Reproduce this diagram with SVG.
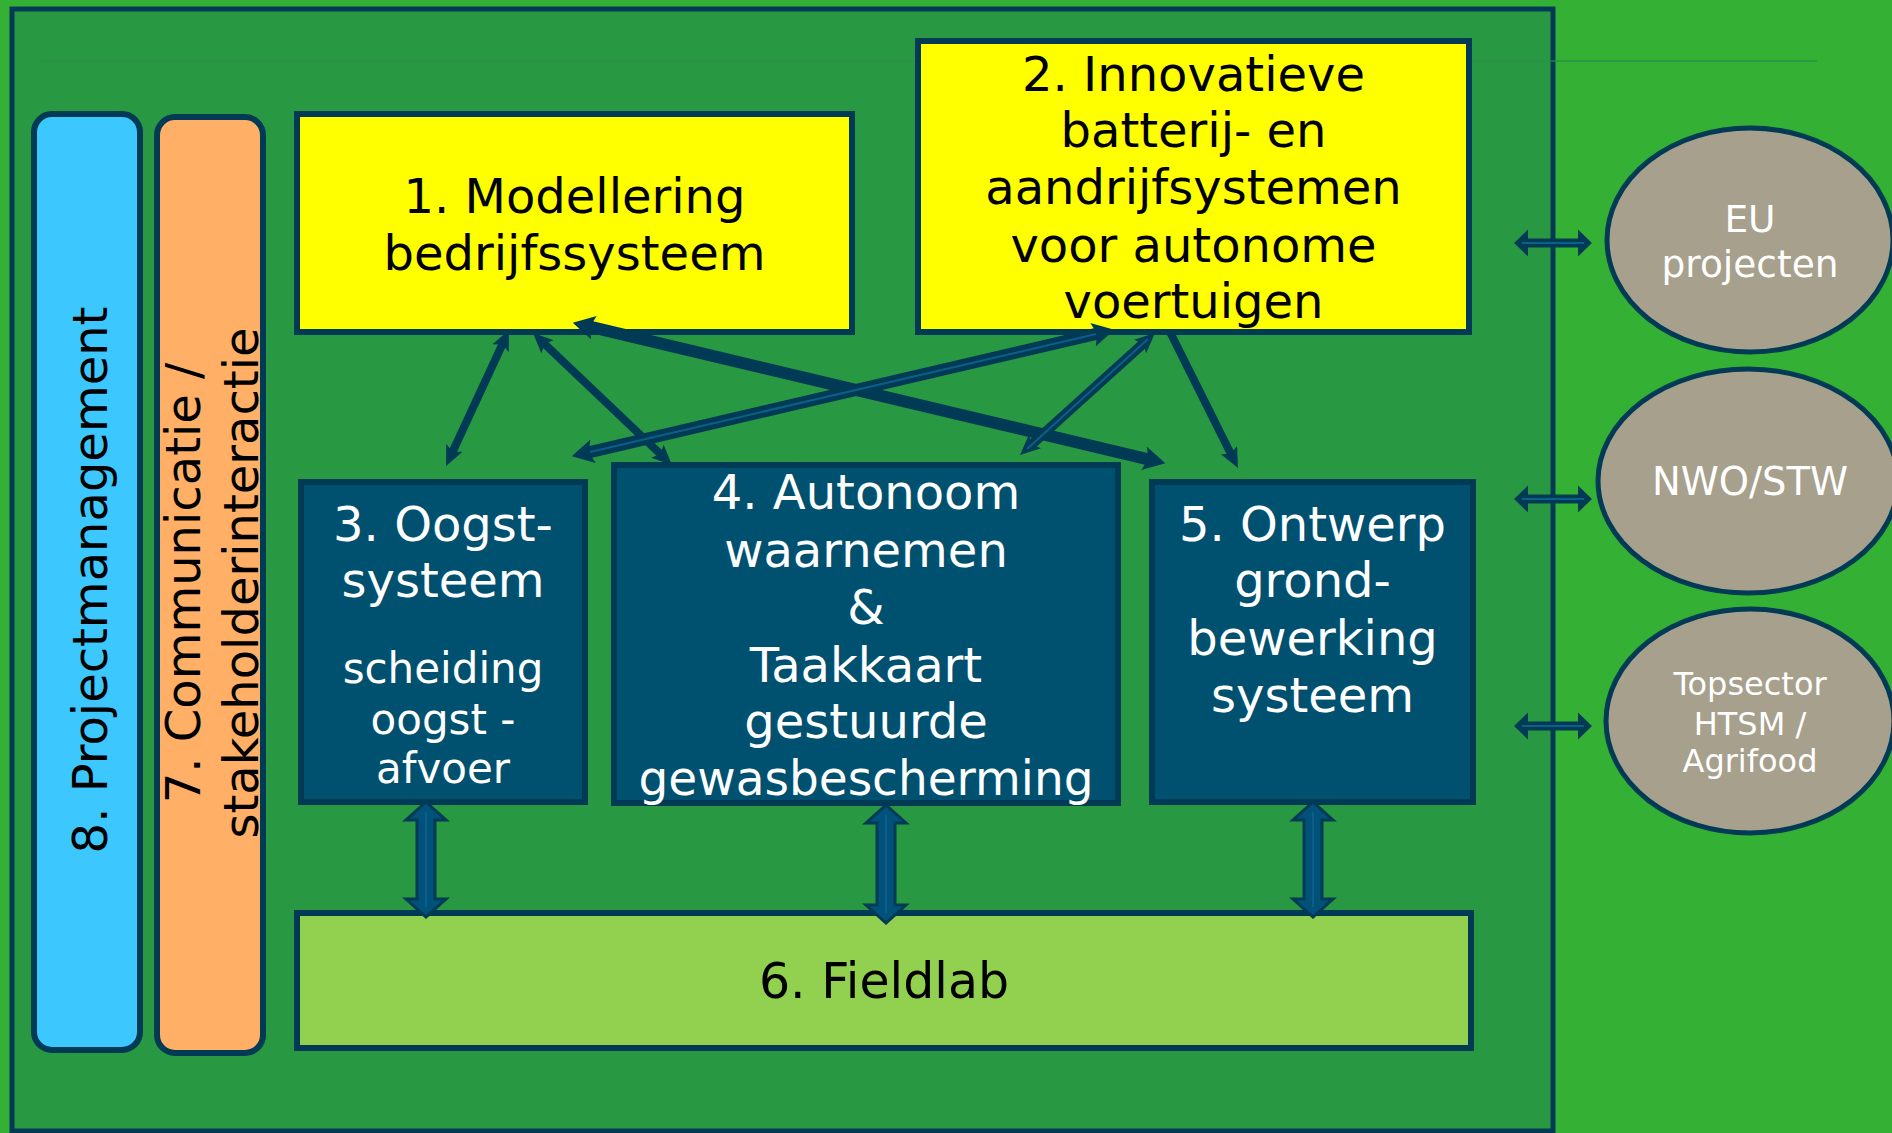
<svg xmlns="http://www.w3.org/2000/svg" width="1892" height="1133" viewBox="0 0 1892 1133">
<defs>
<style>
.t{font-family:"DejaVu Sans",Verdana,sans-serif;text-anchor:middle}
.blk{fill:#000}
.wht{fill:#fff}
.box{stroke:#003a55;stroke-width:6}
.ln{stroke:#003a55;fill:none}
.inner{stroke:#0b5f88;fill:none;stroke-width:2}
.dbl{fill:#00527a;stroke:#003a55;stroke-width:3;stroke-linejoin:miter}
.hz{fill:#003a55}
.ell{fill:#a6a08c;stroke:#003a55;stroke-width:5}
</style>
<marker id="ah" viewBox="0 0 20 18" refX="6" refY="9" markerWidth="20" markerHeight="18" markerUnits="userSpaceOnUse" orient="auto-start-reverse">
<path d="M0,0 L20,9 L0,18 L4,9 z" fill="#003a55"/>
</marker>
<marker id="ahb" viewBox="0 0 20 22" refX="6" refY="11" markerWidth="22" markerHeight="24" markerUnits="userSpaceOnUse" orient="auto-start-reverse">
<path d="M0,0 L20,11 L0,22 L4,11 z" fill="#003a55"/>
</marker>
</defs>
<rect x="0" y="0" width="1892" height="1133" fill="#34b034"/>
<rect x="12" y="9" width="1541" height="1122" fill="#299843" stroke="#003a55" stroke-width="5"/>
<line x1="41" y1="61" x2="1817" y2="61" stroke="#2a8c4c" stroke-width="2" stroke-opacity="0.6"/>

<g id="n8">
<rect x="34" y="114" width="106" height="936" rx="18" fill="#3cc8ff" class="box" stroke-width="5"/>
<text class="t blk" font-size="48" transform="translate(107,580) rotate(-90)">8. Projectmanagement</text>
</g>
<g id="n7">
<rect x="157" y="117" width="106" height="936" rx="18" fill="#ffb066" class="box" stroke-width="5"/>
<text class="t blk" font-size="48" transform="translate(200,583) rotate(-90)">7. Communicatie /</text>
<text class="t blk" font-size="48" transform="translate(258,583) rotate(-90)">stakeholderinteractie</text>
</g>
<g id="n1">
<rect x="297" y="114" width="555" height="218" fill="#ffff00" class="box"/>
<text class="t blk" font-size="48" x="574.5" y="213">1. Modellering</text>
<text class="t blk" font-size="48" x="574.5" y="270">bedrijfssysteem</text>
</g>
<g id="n2">
<rect x="918" y="41" width="551" height="291" fill="#ffff00" class="box"/>
<text class="t blk" font-size="48" x="1193.5" y="91">2. Innovatieve</text>
<text class="t blk" font-size="48" x="1193.5" y="147">batterij- en</text>
<text class="t blk" font-size="48" x="1193.5" y="204">aandrijfsystemen</text>
<text class="t blk" font-size="48" x="1193.5" y="262">voor autonome</text>
<text class="t blk" font-size="48" x="1193.5" y="318">voertuigen</text>
</g>
<g id="n3">
<rect x="301" y="482" width="284" height="320" fill="#00506f" class="box"/>
<text class="t wht" font-size="48" x="443" y="541">3. Oogst-</text>
<text class="t wht" font-size="48" x="443" y="597">systeem</text>
<text class="t wht" font-size="42" x="443" y="683">scheiding</text>
<text class="t wht" font-size="42" x="443" y="734">oogst -</text>
<text class="t wht" font-size="42" x="443" y="783">afvoer</text>
</g>
<g id="n4">
<rect x="614" y="465" width="504" height="338" fill="#00506f" class="box"/>
<text class="t wht" font-size="48" x="866" y="509">4. Autonoom</text>
<text class="t wht" font-size="48" x="866" y="567">waarnemen</text>
<text class="t wht" font-size="48" x="866" y="624">&amp;</text>
<text class="t wht" font-size="48" x="866" y="682">Taakkaart</text>
<text class="t wht" font-size="48" x="866" y="738">gestuurde</text>
<text class="t wht" font-size="48" x="866" y="795" textLength="455" lengthAdjust="spacingAndGlyphs">gewasbescherming</text>
</g>
<g id="n5">
<rect x="1152" y="482" width="321" height="320" fill="#00506f" class="box"/>
<text class="t wht" font-size="48" x="1312.5" y="541">5. Ontwerp</text>
<text class="t wht" font-size="48" x="1312.5" y="597">grond-</text>
<text class="t wht" font-size="48" x="1312.5" y="655">bewerking</text>
<text class="t wht" font-size="48" x="1312.5" y="712">systeem</text>
</g>
<g id="n6">
<rect x="297" y="913" width="1174" height="135" fill="#92d050" class="box"/>
<text class="t blk" font-size="49" x="884" y="998">6. Fieldlab</text>
</g>
<g id="eu">
<ellipse cx="1750" cy="240" rx="143" ry="112" class="ell"/>
<text class="t wht" font-size="37.5" x="1750" y="232">EU</text>
<text class="t wht" font-size="37.5" x="1750" y="277">projecten</text>
</g>
<g id="nwo">
<ellipse cx="1748" cy="481" rx="150" ry="112" class="ell"/>
<text class="t wht" font-size="38.5" x="1750" y="495">NWO/STW</text>
</g>
<g id="top">
<ellipse cx="1750" cy="721" rx="144" ry="112" class="ell"/>
<text class="t wht" font-size="32" x="1750" y="695">Topsector</text>
<text class="t wht" font-size="32" x="1750" y="735">HTSM /</text>
<text class="t wht" font-size="32" x="1750" y="772">Agrifood</text>
</g>

<g id="connectors">
<line class="ln" stroke-width="8" x1="503.1" y1="342.7" x2="451.9" y2="453.3" marker-start="url(#ah)" marker-end="url(#ah)"/>
<line class="ln" stroke-width="8" x1="543.2" y1="342.6" x2="661.8" y2="455.4" marker-start="url(#ah)" marker-end="url(#ah)"/>
<line class="ln" stroke-width="12" x1="587.6" y1="326.2" x2="1150.4" y2="459.8" marker-start="url(#ahb)" marker-end="url(#ahb)"/>
<line class="ln" stroke-width="12" x1="586.6" y1="452.8" x2="1099.4" y2="333.2" marker-start="url(#ahb)" marker-end="url(#ahb)"/>
<line class="inner" x1="590" y1="452" x2="1096" y2="334"/>
<line class="ln" stroke-width="10" x1="1144.6" y1="342.4" x2="1030.4" y2="445.6" marker-start="url(#ah)" marker-end="url(#ah)"/>
<line class="inner" x1="1148" y1="339" x2="1027" y2="449"/>
<line class="ln" stroke-width="8" x1="1170" y1="332" x2="1231.7" y2="455.5" marker-end="url(#ah)"/>

<polygon class="dbl" points="426,802 446,820 435,820 435,899 446,899 426,917 406,899 417,899 417,820 406,820"/>
<line class="inner" x1="426" y1="812" x2="426" y2="907"/>
<polygon class="dbl" points="886,805 906,823 895,823 895,905 906,905 886,923 866,905 877,905 877,823 866,823"/>
<line class="inner" x1="886" y1="815" x2="886" y2="913"/>
<polygon class="dbl" points="1313,802 1333,820 1322,820 1322,899 1333,899 1313,917 1293,899 1304,899 1304,820 1293,820"/>
<line class="inner" x1="1313" y1="812" x2="1313" y2="907"/>

<polygon class="hz" points="1514,243 1528,229.5 1528,238.5 1578,238.5 1578,229.5 1592,243 1578,256.5 1578,247.5 1528,247.5 1528,256.5"/>
<line class="inner" x1="1522" y1="243" x2="1584" y2="243"/>
<polygon class="hz" points="1514,499 1528,485.5 1528,494.5 1578,494.5 1578,485.5 1592,499 1578,512.5 1578,503.5 1528,503.5 1528,512.5"/>
<line class="inner" x1="1522" y1="499" x2="1584" y2="499"/>
<polygon class="hz" points="1514,726 1528,712.5 1528,721.5 1578,721.5 1578,712.5 1592,726 1578,739.5 1578,730.5 1528,730.5 1528,739.5"/>
<line class="inner" x1="1522" y1="726" x2="1584" y2="726"/>
</g>
</svg>
